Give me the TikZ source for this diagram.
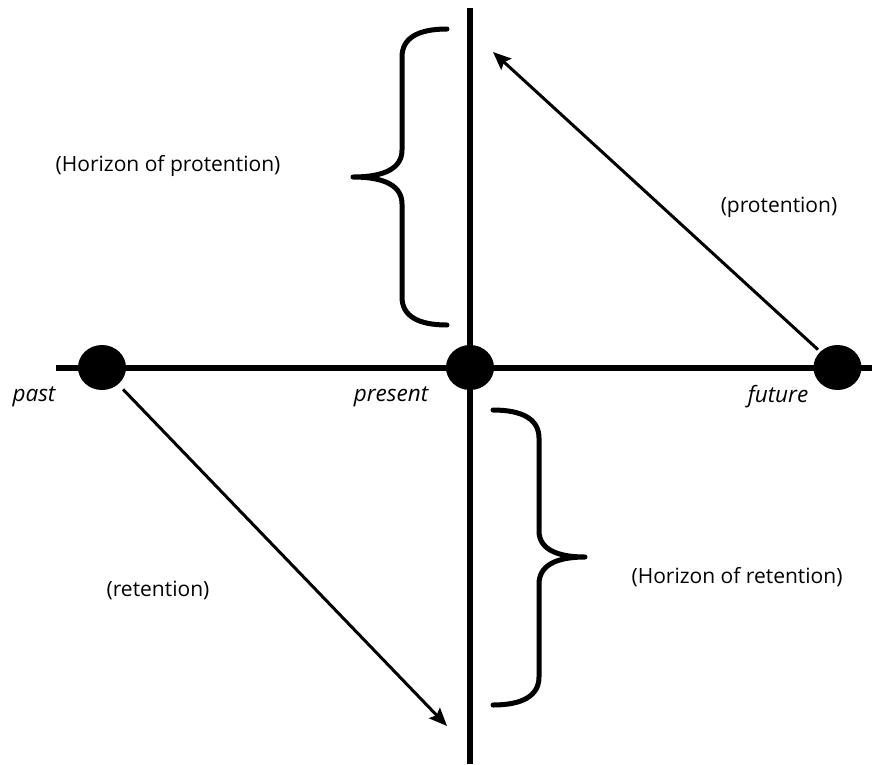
\documentclass[tikz,border=0pt]{standalone}
\usepackage{fontspec}
\setmainfont{Open Sans}
\usetikzlibrary{shapes.geometric,arrows.meta}
\begin{document}
\begin{tikzpicture}[x=1pt,y=-1pt,
  dot/.style={ellipse,fill=black,inner sep=0pt,minimum width=48pt,minimum height=45pt},
  axis/.style={line width=5.5pt},
  vaxis/.style={line width=6pt},
  arr/.style={line width=3pt,-{Stealth[length=18pt,width=15pt,inset=3pt]}},
  brace/.style={line width=5pt,line cap=round,line join=round},
  lbl/.style={font=\fontsize{21}{25}\selectfont,inner sep=0pt},
  tl/.style={font=\fontsize{22.5}{26}\selectfont\itshape,inner sep=0pt}]
\useasboundingbox (0,0) rectangle (872,764);
% axes
\coordinate (hl) at (56,368);
\coordinate (hr) at (872,368);
\coordinate (vt) at (470,8);
\coordinate (vb) at (470,764);
\draw[axis] (hl) -- (hr);
\draw[vaxis] (vt) -- (vb);
% dots
\node[dot] (past) at (102,367.5) {};
\node[dot] (present) at (470,367.5) {};
\node[dot] (future) at (837.5,367.5) {};
% arrows
\coordinate (ptip) at (493,52);
\coordinate (rtip) at (447,726);
\draw[arr,shorten <=3pt] (future) -- (ptip);
\draw[arr,shorten <=7pt] (past) -- (rtip);
% braces
\coordinate (lbt) at (447,29);
\coordinate (lbb) at (447,325);
\coordinate (lbm) at (353,177);
\draw[brace] (lbt) .. controls (418,29) and (402,38) .. (402,57) -- (402,150)
  .. controls (402,168) and (385,177) .. (lbm)
  .. controls (385,177) and (402,186) .. (402,204) -- (402,297)
  .. controls (402,316) and (418,325) .. (lbb);
\coordinate (rbt) at (493,410);
\coordinate (rbb) at (493,705);
\coordinate (rbm) at (585,557);
\draw[brace] (rbt) .. controls (522,410) and (539,419) .. (539,438) -- (539,531)
  .. controls (539,548) and (555,557) .. (rbm)
  .. controls (555,557) and (539,566) .. (539,584) -- (539,677)
  .. controls (539,696) and (522,705) .. (rbb);
% labels
\node[lbl] (hp) at (168,166) {(Horizon of protention)};
\node[lbl] (pr) at (779,207) {(protention)};
\node[lbl] (hr2) at (737,577) {(Horizon of retention)};
\node[lbl] (re) at (158,590) {(retention)};
\node[tl] (tpast) at (34,397) {past};
\node[tl] (tpresent) at (391,397) {present};
\node[tl] (tfuture) at (778,397) {future};
\end{tikzpicture}
\end{document}
